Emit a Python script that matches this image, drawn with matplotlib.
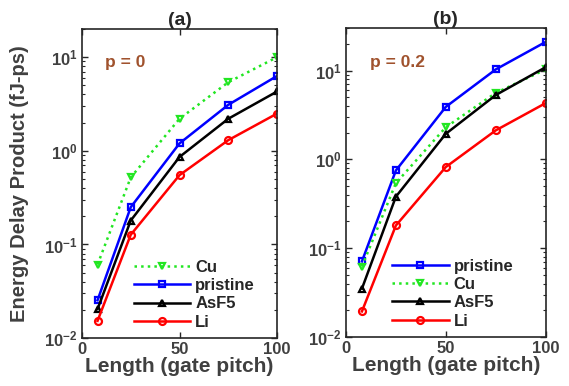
import numpy as np
import matplotlib
matplotlib.use('Agg')
import matplotlib.pyplot as plt
from matplotlib.ticker import LogLocator, FixedLocator, FuncFormatter, NullFormatter

plt.rcParams['font.family'] = 'Liberation Sans'
plt.rcParams['font.weight'] = 'bold'
plt.rcParams['mathtext.fontset'] = 'custom'
plt.rcParams['mathtext.rm'] = 'Liberation Sans:bold'
plt.rcParams['mathtext.bf'] = 'Liberation Sans:bold'
plt.rcParams['mathtext.default'] = 'rm'

length = [8, 25, 50, 75, 100]

# panel (a), p = 0
cu_a = [0.061, 0.52, 2.2, 5.4, 10.0]
pristine_a = [0.0254, 0.25, 1.2, 3.1, 6.3]
asf5_a = [0.0204, 0.18, 0.86, 2.2, 4.3]
li_a = [0.0153, 0.127, 0.55, 1.3, 2.5]

# panel (b), p = 0.2
pristine_b = [0.071, 0.75, 3.9, 10.3, 21.0]
cu_b = [0.062, 0.54, 2.3, 5.6, 10.3]
asf5_b = [0.035, 0.38, 1.94, 5.3, 10.9]
li_b = [0.0194, 0.18, 0.82, 2.12, 4.3]

txt = '#404040'
styles = {
    'Cu': dict(color='#22e622', ls=':', marker='v'),
    'pristine': dict(color='#0000ff', ls='-', marker='s'),
    'AsF5': dict(color='black', ls='-', marker='^'),
    'Li': dict(color='#ff0000', ls='-', marker='o'),
}

fig = plt.figure(figsize=(5.69, 3.86), dpi=100)
ax1 = fig.add_axes([0.144, 0.124, 0.343, 0.801])
ax2 = fig.add_axes([0.608, 0.127, 0.351, 0.800])

def draw(ax, series, title, ptxt, ytop, legx):
    for name, vals in series:
        s = styles[name]
        ax.plot(length, vals, color=s['color'], ls=s['ls'], marker=s['marker'],
                lw=1.8, ms=5, mfc='none', mew=1.6, label=name)
    ax.set_yscale('log')
    ax.set_xlim(0, 100)
    ax.set_ylim(0.01, ytop)
    ax.xaxis.set_major_locator(FixedLocator([0, 50, 100]))
    ax.yaxis.set_major_locator(LogLocator(base=10))
    ax.yaxis.set_minor_locator(LogLocator(base=10, subs=np.arange(2, 10)))
    ax.yaxis.set_major_formatter(FuncFormatter(lambda v, p: r'$10^{%d}$' % round(np.log10(v))))
    ax.yaxis.set_minor_formatter(NullFormatter())
    ax.tick_params(which='both', direction='in', top=True, right=True, colors='#262626',
                   labelcolor=txt, labelsize=12)
    ax.tick_params(which='major', length=4, width=1, pad=3)
    ax.tick_params(which='minor', length=2.5, width=0.8)
    for sp in ax.spines.values():
        sp.set_color('#262626')
        sp.set_linewidth(1.2)
    ax.set_xlabel('Length (gate pitch)', fontsize=15, fontweight='bold', color=txt, labelpad=0)
    ax.set_title(title, fontsize=14, fontweight='bold', color='#262626', pad=3)
    ax.text(0.12, 0.89, ptxt, transform=ax.transAxes, fontsize=12.5, fontweight='bold',
            color='#a0522d', va='center')
    leg = ax.legend(loc='lower right', bbox_to_anchor=(legx, 0.0), frameon=False, fontsize=12,
                    handlelength=3.4, borderaxespad=0.1, labelspacing=0.2, handletextpad=0.3)
    for t in leg.get_texts():
        t.set_color('#262626')

draw(ax1, [('Cu', cu_a), ('pristine', pristine_a), ('AsF5', asf5_a), ('Li', li_a)],
     '(a)', 'p = 0', 20, 0.93)
draw(ax2, [('pristine', pristine_b), ('Cu', cu_b), ('AsF5', asf5_b), ('Li', li_b)],
     '(b)', 'p = 0.2', 30, 0.88)
ax1.set_ylabel('Energy Delay Product (fJ-ps)', fontsize=14.5, fontweight='bold', color=txt)
ax1.yaxis.set_label_coords(-0.27, 0.5)

fig.savefig('out.png', dpi=100)
